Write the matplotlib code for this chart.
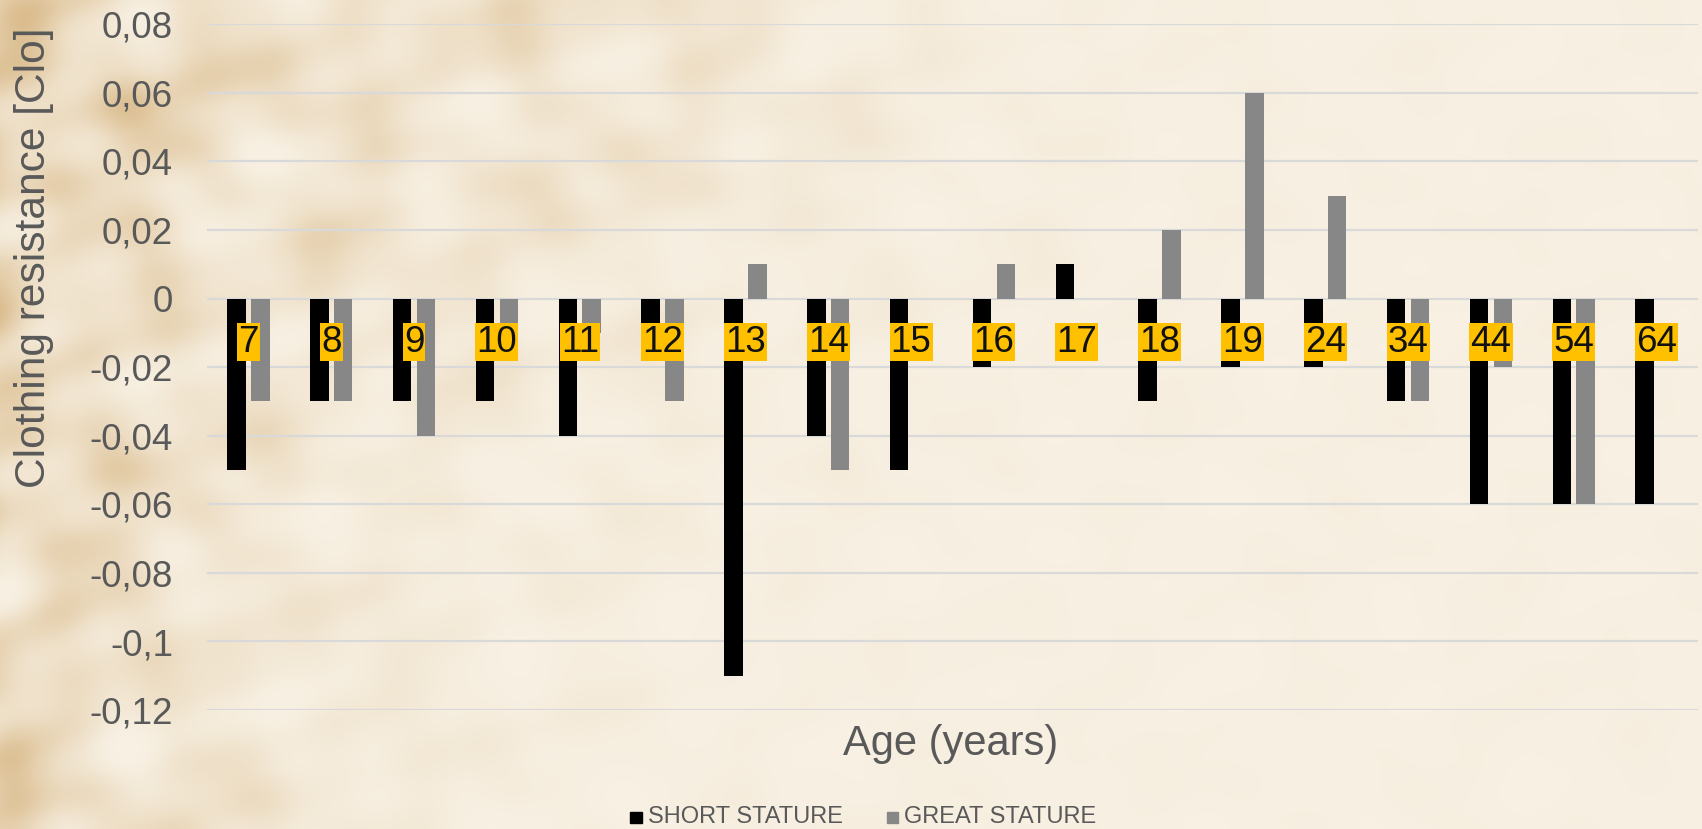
import numpy as np
import matplotlib
matplotlib.use("Agg")
import matplotlib.pyplot as plt
from matplotlib.patches import Rectangle

# Data
ages = ["7", "8", "9", "10", "11", "12", "13", "14", "15",
        "16", "17", "18", "19", "24", "34", "44", "54", "64"]
short_stature = [-0.05, -0.03, -0.03, -0.03, -0.04, -0.01, -0.11, -0.04, -0.05,
                 -0.02, 0.01, -0.03, -0.02, -0.02, -0.03, -0.06, -0.06, -0.06]
great_stature = [-0.03, -0.03, -0.04, -0.01, -0.01, -0.03, 0.01, -0.05, 0.0,
                 0.01, 0.0, 0.02, 0.06, 0.03, -0.03, -0.02, -0.06, 0.0]
y_ticks = [0.08, 0.06, 0.04, 0.02, 0.0, -0.02, -0.04, -0.06, -0.08, -0.10, -0.12]
y_tick_labels = ["0,08", "0,06", "0,04", "0,02", "0", "-0,02", "-0,04",
                 "-0,06", "-0,08", "-0,1", "-0,12"]
series_names = ["SHORT STATURE", "GREAT STATURE"]

FONT = "Liberation Sans"
TXT = "#595959"
C_SHORT = "#000000"
C_GREAT = "#878787"
W, H = 1702, 829

plt.rcParams["font.family"] = [FONT, "DejaVu Sans"]
fig = plt.figure(figsize=(W / 100, H / 100 + 0.001), dpi=100)

# Parchment backdrop: cream paper with tan mottling, heavier toward the left edge
yy, xx = np.mgrid[0:H, 0:W].astype(float)
n = (np.sin(xx / 37.0 + 1.3 * np.sin(yy / 53.0)) * np.sin(yy / 29.0 + 0.9 * np.sin(xx / 61.0))
     + 0.6 * np.sin((xx + yy) / 47.0 + 2.0) * np.sin((xx - yy) / 71.0 + 0.5)
     + 0.4 * np.sin(xx / 19.0 + yy / 23.0) * np.cos(yy / 17.0 - xx / 41.0))
n = (n - n.min()) / (n.max() - n.min())
weight = (1.05 * np.exp(-xx / 210.0)
          + 0.42 * np.exp(-((xx - 450.0) / 420.0) ** 2 - (yy / 320.0) ** 2)
          + 0.06)
d = np.clip(weight * n ** 1.5, 0, 1)
cream = np.array([248, 241, 228]) / 255.0
tan = np.array([214, 180, 128]) / 255.0
img = cream[None, None, :] * (1 - d[..., None]) + tan[None, None, :] * d[..., None]
bg = fig.add_axes([0, 0, 1, 1], zorder=-10)
bg.imshow(img, aspect="auto", extent=(0, 1, 0, 1), interpolation="bilinear")
bg.axis("off")

# Plot area
left, right, top, bottom = 207, 1698, 24.3, 710
ax = fig.add_axes([left / W, 1 - bottom / H, (right - left) / W, (bottom - top) / H])
ax.patch.set_alpha(0)

x = np.arange(len(ages))
bw = 0.225
off = 0.144
ax.bar(x - off, short_stature, width=bw, color=C_SHORT, zorder=3)
ax.bar(x + off, great_stature, width=bw, color=C_GREAT, zorder=3)

ax.set_xlim(-0.5, len(ages) - 0.5)
ax.set_ylim(-0.12, 0.08)
ax.set_yticks(y_ticks)
ax.set_yticklabels(y_tick_labels, fontsize=26.5, color=TXT)
ax.tick_params(axis="y", length=0, pad=24.5)
ax.set_xticks([])
ax.grid(axis="y", color="#D9D9D9", linewidth=1.6, zorder=0)
for s in ax.spines.values():
    s.set_visible(False)

# Category labels in highlighted boxes
for xi, a in zip(x, ages):
    ax.text(xi, -0.01266, a, ha="center", va="center", fontsize=26.5, color="#111111",
            zorder=5, bbox=dict(boxstyle="square,pad=0.03", fc="#FFC000", ec="none"))

# Axis titles
fig.text(34 / W, 1 - 257.5 / H, "Clothing resistance [Clo]", rotation=90,
         ha="center", va="center", fontsize=30.6, color=TXT)
fig.text(951 / W, 1 - 755 / H, "Age (years)", ha="center", va="baseline",
         fontsize=30, color=TXT)

# Legend
ly = 816.5
sq = 11.5
for mx, tx, col, name in [(630, 648, C_SHORT, series_names[0]),
                          (886.5, 903.5, C_GREAT, series_names[1])]:
    fig.patches.append(Rectangle((mx / W, 1 - (ly + 1 + sq / 2) / H), sq / W, sq / H,
                                 transform=fig.transFigure, color=col))
    fig.text(tx / W, 1 - ly / H, name, ha="left", va="center",
             fontsize=17, color=TXT)

fig.savefig("out.png", dpi=100)
